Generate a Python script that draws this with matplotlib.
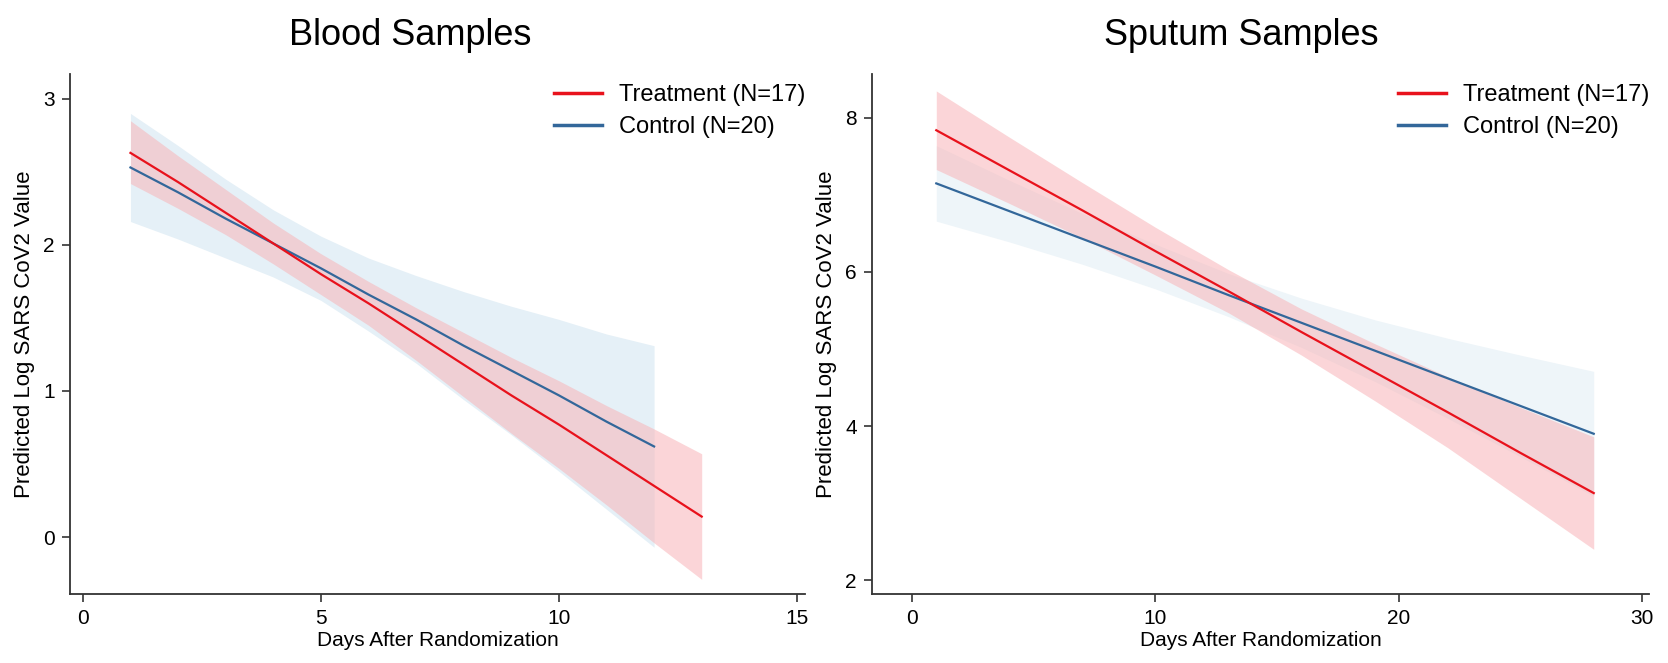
import matplotlib.pyplot as plt
from matplotlib.lines import Line2D

plt.rcParams['font.family'] = ['Liberation Sans', 'DejaVu Sans']

# Blood samples (left)
blood_trt_days = [1, 2, 3, 4, 5, 6, 7, 8, 9, 10, 11, 12, 13]
blood_trt_fit = [2.63, 2.43, 2.22, 2.01, 1.80, 1.60, 1.39, 1.18, 0.97, 0.77, 0.56, 0.35, 0.14]
blood_trt_hi = [2.85, 2.61, 2.38, 2.15, 1.94, 1.75, 1.57, 1.40, 1.23, 1.07, 0.90, 0.74, 0.57]
blood_trt_lo = [2.42, 2.25, 2.07, 1.87, 1.66, 1.45, 1.21, 0.96, 0.71, 0.47, 0.22, -0.04, -0.29]

blood_ctl_days = [1, 2, 3, 4, 5, 6, 7, 8, 9, 10, 11, 12]
blood_ctl_fit = [2.53, 2.36, 2.18, 2.01, 1.84, 1.66, 1.49, 1.31, 1.14, 0.97, 0.79, 0.62]
blood_ctl_hi = [2.90, 2.68, 2.45, 2.24, 2.06, 1.91, 1.79, 1.68, 1.58, 1.49, 1.39, 1.31]
blood_ctl_lo = [2.16, 2.04, 1.91, 1.78, 1.62, 1.41, 1.19, 0.94, 0.70, 0.45, 0.19, -0.07]

# Sputum samples (right)
sput_days = [1, 4, 7, 10, 13, 16, 19, 22, 25, 28]
sput_trt_fit = [7.84, 7.32, 6.80, 6.27, 5.75, 5.22, 4.70, 4.18, 3.65, 3.13]
sput_trt_hi = [8.35, 7.75, 7.16, 6.58, 6.03, 5.52, 5.07, 4.64, 4.24, 3.86]
sput_trt_lo = [7.33, 6.89, 6.44, 5.96, 5.47, 4.92, 4.33, 3.72, 3.06, 2.40]

sput_ctl_fit = [7.15, 6.79, 6.43, 6.07, 5.70, 5.34, 4.98, 4.62, 4.26, 3.90]
sput_ctl_hi = [7.64, 7.19, 6.76, 6.36, 5.98, 5.66, 5.38, 5.14, 4.92, 4.71]
sput_ctl_lo = [6.66, 6.39, 6.10, 5.78, 5.42, 5.02, 4.58, 4.10, 3.60, 3.09]

labels = ["Treatment (N=17)", "Control (N=20)"]
red = '#e8121c'
blue = '#33679a'

fig = plt.figure(figsize=(16.68, 6.63), dpi=100)
ax1 = fig.add_axes([70 / 1668, 69 / 663, 735 / 1668, 520 / 663])
ax2 = fig.add_axes([872 / 1668, 69 / 663, 777 / 1668, 520 / 663])


def draw(ax, td, tf, th, tl, cd, cf, ch, cl, band_blue):
    ax.fill_between(cd, cl, ch, color=band_blue, lw=0)
    ax.plot(cd, cf, color=blue, lw=1.6)
    ax.fill_between(td, tl, th, color='#f8b4b8', alpha=0.55, lw=0)
    ax.plot(td, tf, color=red, lw=1.6)
    for s in ['top', 'right']:
        ax.spines[s].set_visible(False)
    for s in ['left', 'bottom']:
        ax.spines[s].set_linewidth(1.3)
        ax.spines[s].set_color('#333333')
    ax.tick_params(direction='out', length=6, width=1.2, color='#333333',
                   labelsize=15, pad=5)
    ax.set_xlabel("Days After Randomization", fontsize=15, labelpad=2)
    ax.set_ylabel("Predicted Log SARS CoV2 Value", fontsize=16, labelpad=6)
    handles = [Line2D([], [], color=red, lw=2.5), Line2D([], [], color=blue, lw=2.5)]
    ax.legend(handles, labels, loc='upper right', frameon=False, fontsize=17,
              handlelength=2.05, handletextpad=0.7, labelspacing=0.4,
              borderpad=0.0, borderaxespad=0.0, bbox_to_anchor=(1.0, 0.98))


draw(ax1, blood_trt_days, blood_trt_fit, blood_trt_hi, blood_trt_lo,
     blood_ctl_days, blood_ctl_fit, blood_ctl_hi, blood_ctl_lo, '#e5f0f7')
ax1.set_xlim(-0.27, 15.17)
ax1.set_ylim(-0.39, 3.17)
ax1.set_xticks([0, 5, 10, 15])
ax1.set_yticks([0, 1, 2, 3])
ax1.set_title("Blood Samples", fontsize=26, pad=21, x=0.463)

draw(ax2, sput_days, sput_trt_fit, sput_trt_hi, sput_trt_lo,
     sput_days, sput_ctl_fit, sput_ctl_hi, sput_ctl_lo, '#eef5f9')
ax2.set_xlim(-1.64, 30.27)
ax2.set_ylim(1.82, 8.57)
ax2.set_xticks([0, 10, 20, 30])
ax2.set_yticks([2, 4, 6, 8])
ax2.set_title("Sputum Samples", fontsize=26, pad=21, x=0.475)

fig.savefig("out.png", dpi=100)
